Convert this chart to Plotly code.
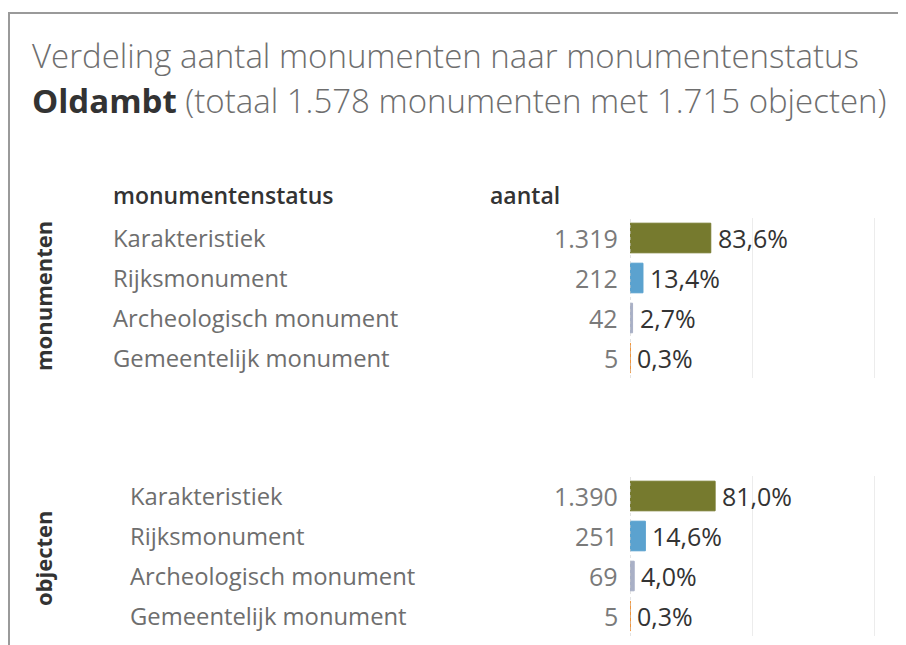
import plotly.graph_objects as go

# ---- data ----
categories = ["Karakteristiek", "Rijksmonument", "Archeologisch monument", "Gemeentelijk monument"]
monumenten_counts = [1319, 212, 42, 5]
monumenten_pct = [83.6, 13.4, 2.7, 0.3]
objecten_counts = [1390, 251, 69, 5]
objecten_pct = [81.0, 14.6, 4.0, 0.3]
bar_colors = ["#767A2E", "#5BA2CF", "#A9B0C6", "#F28E2B"]
gridline_vals = [2000, 4000]
title_line1 = "Verdeling aantal monumenten naar monumentenstatus"
title_place = "Oldambt"
title_rest = " (totaal 1.578 monumenten met 1.715 objecten)"

# page body has an 8px default margin; work in window pixel coords
OX, OY = 8, 8
W, H = 898, 637
FONT = "Open Sans"


def px(x):
    return (x - OX) / W


def py(y):
    return 1 - (y - OY) / H


def nl(v):
    return f"{v:,}".replace(",", ".")


def pct(v):
    return f"{v:.1f}%".replace(".", ",")


fig = go.Figure()

panes = [
    ("x", "y", monumenten_counts, monumenten_pct, 113),
    ("x2", "y2", objecten_counts, objecten_pct, 130),
]

annotations = []
shapes = []
for xa, ya, counts, pcts, label_x in panes:
    fig.add_trace(go.Bar(
        x=counts, y=categories, orientation="h",
        marker=dict(color=bar_colors, line=dict(color=bar_colors, width=1)),
        width=0.74, xaxis=xa, yaxis=ya, showlegend=False, hoverinfo="skip",
    ))
    for cat, c, p in zip(categories, counts, pcts):
        annotations.append(dict(xref="paper", x=px(111), xanchor="left",
                                yref=ya, y=cat, text=cat, showarrow=False,
                                xshift=label_x - 113,
                                font=dict(family=FONT, size=23.8, color="#6e6e6e")))
        annotations.append(dict(xref="paper", x=px(620), xanchor="right",
                                yref=ya, y=cat, text=nl(c), showarrow=False,
                                font=dict(family=FONT, size=25, color="#7a7a7a")))
        annotations.append(dict(xref=xa, x=c, xanchor="left", xshift=5,
                                yref=ya, y=cat, text=pct(p), showarrow=False,
                                font=dict(family=FONT, size=25, color="#333333")))
    shapes.append(dict(type="line", xref=xa, x0=0, x1=0, yref=ya + " domain", y0=0, y1=1,
                       line=dict(color="#c8c8c8", width=1, dash="dot")))

# headers
annotations += [
    dict(xref="paper", yref="paper", x=px(111), y=py(195), xanchor="left", yanchor="middle",
         text="monumentenstatus", showarrow=False,
         font=dict(family=FONT, size=23, color="#333333", weight=600)),
    dict(xref="paper", yref="paper", x=px(488), y=py(195), xanchor="left", yanchor="middle",
         text="aantal", showarrow=False,
         font=dict(family=FONT, size=23, color="#333333", weight=600)),
    dict(xref="paper", yref="paper", x=px(43), y=py(296), xanchor="center", yanchor="middle",
         text="<b>monumenten</b>", textangle=-90, showarrow=False,
         font=dict(family=FONT, size=22, color="#333333")),
    dict(xref="paper", yref="paper", x=px(43), y=py(558), xanchor="center", yanchor="middle",
         text="<b>objecten</b>", textangle=-90, showarrow=False,
         font=dict(family=FONT, size=22, color="#333333")),
    dict(xref="paper", yref="paper", x=px(30), y=py(55), xanchor="left", yanchor="middle",
         text=title_line1, showarrow=False,
         font=dict(family=FONT, size=33, color="#6e6e6e", weight=300)),
    dict(xref="paper", yref="paper", x=px(30), y=py(101), xanchor="left", yanchor="middle",
         text=f"<span style='color:#333333;font-weight:bold'>{title_place}</span>{title_rest}",
         showarrow=False, font=dict(family=FONT, size=33, color="#6e6e6e", weight=300)),
]

# frame
shapes += [
    dict(type="line", xref="paper", yref="paper", x0=px(8), x1=1, y0=py(13), y1=py(13),
         line=dict(color="#9a9a9a", width=2)),
    dict(type="line", xref="paper", yref="paper", x0=px(9), x1=px(9), y0=py(12), y1=0,
         line=dict(color="#9a9a9a", width=2)),
]

xaxis_common = dict(domain=[px(630), px(878)], range=[0, 4050], tickvals=gridline_vals,
                    showticklabels=False, showgrid=True, gridcolor="#ececec", gridwidth=1,
                    zeroline=False, showline=False, fixedrange=True)
yaxis_common = dict(autorange="reversed", showticklabels=False, showgrid=False,
                    zeroline=False, showline=False, categoryorder="array",
                    categoryarray=categories, fixedrange=True)

fig.update_layout(
    width=W, height=H, margin=dict(l=0, r=0, t=0, b=0),
    paper_bgcolor="white", plot_bgcolor="white",
    xaxis=dict(**xaxis_common, anchor="y"),
    yaxis=dict(**yaxis_common, domain=[py(378), py(218)], anchor="x"),
    xaxis2=dict(**xaxis_common, anchor="y2"),
    yaxis2=dict(**yaxis_common, domain=[py(636), py(476)], anchor="x2"),
    annotations=annotations, shapes=shapes, bargap=0.26,
    font=dict(family=FONT),
)

fig.write_html("out.html")
